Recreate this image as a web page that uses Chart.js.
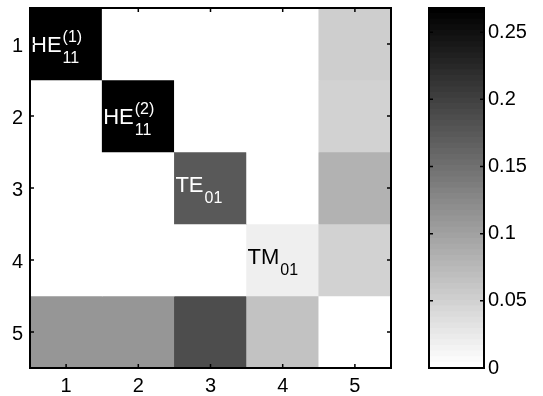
<!DOCTYPE html>
<html>
<head>
<meta charset="utf-8">
<script src="https://cdn.jsdelivr.net/npm/chart.js@4/dist/chart.umd.min.js"></script>
<style>
  html, body { margin: 0; padding: 0; background: #fff; }
  #wrap { position: relative; width: 543px; height: 396px; }
  #matrix { position: absolute; left: 0; top: 0; }
  #colorbar { position: absolute; left: 400px; top: 0; }
</style>
</head>
<body>
<div id="wrap">
  <canvas id="matrix" width="400" height="396"></canvas>
  <canvas id="colorbar" width="143" height="396"></canvas>
</div>
<script>
// mode coupling matrix, one array per row
const row1 = [0.27, 0, 0, 0, 0.052];
const row2 = [0, 0.27, 0, 0, 0.050];
const row3 = [0, 0, 0.175, 0, 0.081];
const row4 = [0, 0, 0, 0.020, 0.049];
const row5 = [0.112, 0.112, 0.185, 0.064, 0];
const rows = [row1, row2, row3, row4, row5];

const axisLabels = [1, 2, 3, 4, 5];

// mode names on the diagonal
const modeNames = ['HE', 'HE', 'TE', 'TM'];
const modeSup = ['(1)', '(2)', '', ''];
const modeSub = ['11', '11', '01', '01'];

// colour scale
const cMin = 0;
const cMax = 0.268;
const nLevels = 64;
const colorbarTicks = [0, 0.05, 0.1, 0.15, 0.2, 0.25];

const FONT = "'Liberation Sans', Arial, Helvetica, sans-serif";

// flipped gray colormap, 64 steps
function levelColor(k) {
    const g = Math.round(255 * (1 - k / (nLevels - 1)));
    return `rgb(${g},${g},${g})`;
}
function valueColor(v) {
    let k = Math.floor((v - cMin) / (cMax - cMin) * nLevels);
    k = Math.max(0, Math.min(nLevels - 1, k));
    return levelColor(k);
}

// keep the plot area where the layout padding puts it
function noLabelPadding(s) {
    s.paddingTop = 0;
    s.paddingBottom = 0;
    s.paddingLeft = 0;
    s.paddingRight = 0;
}

// box with inward ticks on all four sides
function boxPlugin(xTicks, yTicks) {
    return {
        id: 'box',
        afterDraw(chart) {
            const { ctx, chartArea: a, scales } = chart;
            ctx.save();
            ctx.strokeStyle = '#000';
            ctx.lineWidth = 1.5;
            ctx.beginPath();
            if (xTicks) {
                xTicks.forEach(v => {
                    const px = scales.x.getPixelForValue(v);
                    ctx.moveTo(px, a.bottom); ctx.lineTo(px, a.bottom - 4);
                    ctx.moveTo(px, a.top); ctx.lineTo(px, a.top + 4);
                });
            }
            yTicks.forEach(v => {
                const py = scales.y.getPixelForValue(v);
                ctx.moveTo(a.left, py); ctx.lineTo(a.left + 4, py);
                ctx.moveTo(a.right, py); ctx.lineTo(a.right - 4, py);
            });
            ctx.stroke();
            ctx.lineWidth = 2;
            ctx.strokeRect(a.left, a.top, a.right - a.left, a.bottom - a.top);
            ctx.restore();
        }
    };
}

// mode labels in the diagonal cells
const modeLabelPlugin = {
    id: 'modeLabels',
    afterDatasetsDraw(chart) {
        const { ctx, scales } = chart;
        ctx.save();
        ctx.textAlign = 'left';
        ctx.textBaseline = 'alphabetic';
        modeNames.forEach((name, i) => {
            const v = rows[i][i];
            ctx.fillStyle = v > (cMax - cMin) / 2 ? '#fff' : '#000';
            const x0 = scales.x.getPixelForValue(axisLabels[i] - 0.5) + 1;
            const yc = scales.y.getPixelForValue(axisLabels[i]);
            const base = yc + (modeSup[i] ? 8 : 4);
            ctx.font = `22px ${FONT}`;
            ctx.fillText(name, x0, base);
            const w = ctx.measureText(name).width;
            ctx.font = `16px ${FONT}`;
            if (modeSup[i]) ctx.fillText(modeSup[i], x0 + w + 1, base - 10);
            ctx.fillText(modeSub[i], x0 + w + 1, base + 11);
        });
        ctx.restore();
    }
};

// one floating-bar dataset per matrix row
const cellDatasets = rows.map((row, r) => ({
    data: row.map((v, c) => ({ x: axisLabels[c], y: [axisLabels[r] - 0.5, axisLabels[r] + 0.5] })),
    backgroundColor: row.map(valueColor),
    borderWidth: 0,
    barPercentage: 1,
    categoryPercentage: 1,
    grouped: false
}));

new Chart(document.getElementById('matrix'), {
    type: 'bar',
    data: { datasets: cellDatasets },
    options: {
        responsive: false,
        animation: false,
        layout: { padding: { top: 8, right: 9, left: 0, bottom: 0 } },
        plugins: { legend: { display: false }, tooltip: { enabled: false } },
        scales: {
            x: {
                type: 'linear',
                min: 0.5, max: 5.5,
                offset: false,
                grid: { display: false, drawTicks: false },
                border: { display: false },
                afterBuildTicks: s => { s.ticks = axisLabels.map(v => ({ value: v })); },
                afterFit: s => { s.height = 28; noLabelPadding(s); },
                ticks: { color: '#000', padding: 6, font: { family: FONT, size: 20 }, maxRotation: 0 }
            },
            y: {
                type: 'linear',
                reverse: true,
                min: 0.5, max: 5.5,
                grid: { display: false, drawTicks: false },
                border: { display: false },
                afterBuildTicks: s => { s.ticks = axisLabels.map(v => ({ value: v })); },
                afterFit: s => { s.width = 30; noLabelPadding(s); },
                ticks: { color: '#000', padding: 7, labelOffset: 2, font: { family: FONT, size: 20 } }
            }
        }
    },
    plugins: [modeLabelPlugin, boxPlugin(axisLabels, axisLabels)]
});

// colorbar: 64 stacked steps
const step = (cMax - cMin) / nLevels;
const levelDatasets = [];
for (let k = 0; k < nLevels; k++) {
    levelDatasets.push({
        data: [step],
        backgroundColor: levelColor(k),
        borderWidth: 0,
        inflateAmount: 0.6,
        barPercentage: 1,
        categoryPercentage: 1
    });
}

new Chart(document.getElementById('colorbar'), {
    type: 'bar',
    data: { labels: [''], datasets: levelDatasets },
    options: {
        responsive: false,
        animation: false,
        layout: { padding: { top: 8, left: 29, bottom: 28, right: 0 } },
        plugins: { legend: { display: false }, tooltip: { enabled: false } },
        scales: {
            x: { display: false, stacked: true },
            y: {
                position: 'right',
                stacked: true,
                min: cMin, max: cMax,
                grid: { display: false, drawTicks: false },
                border: { display: false },
                afterBuildTicks: s => { s.ticks = colorbarTicks.map(v => ({ value: v })); },
                afterFit: s => { s.width = 59; noLabelPadding(s); },
                ticks: { color: '#000', padding: 4, font: { family: FONT, size: 20 }, callback: v => String(v) }
            }
        }
    },
    plugins: [boxPlugin(null, colorbarTicks)]
});
</script>
</body>
</html>
